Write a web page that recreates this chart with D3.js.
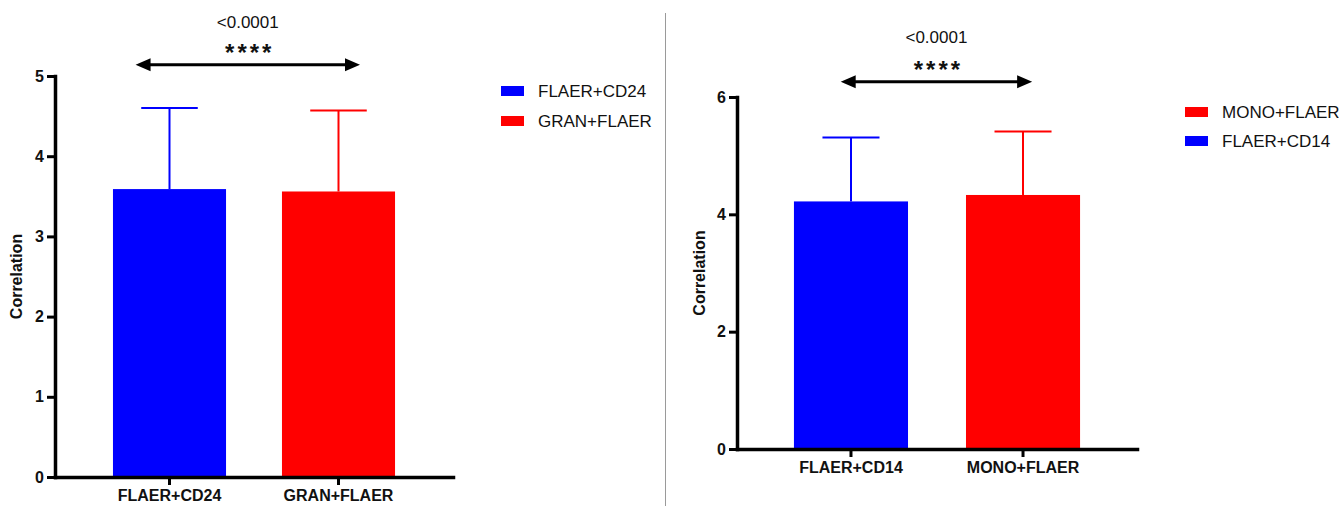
<!DOCTYPE html>
<html><head><meta charset="utf-8">
<script src="https://cdn.jsdelivr.net/npm/d3@7/dist/d3.min.js"></script>
<style>
body{margin:0;background:#fff;}
svg{display:block;font-family:"Liberation Sans",Arial,sans-serif;}
</style></head>
<body><svg id="c" width="1339" height="506"></svg>
<script>
// Left panel data
const leftCategories = ["FLAER+CD24", "GRAN+FLAER"];
const leftMeans = [3.59, 3.56];
const leftUpper = [4.60, 4.57];
const leftColors = ["#0000ff", "#ff0000"];
const leftTicks = [0, 1, 2, 3, 4, 5];
const leftLegend = ["FLAER+CD24", "GRAN+FLAER"];
const leftLegendColors = ["#0000ff", "#ff0000"];
const leftP = "<0.0001";
const leftStars = "****";

// Right panel data
const rightCategories = ["FLAER+CD14", "MONO+FLAER"];
const rightMeans = [4.22, 4.33];
const rightUpper = [5.31, 5.41];
const rightColors = ["#0000ff", "#ff0000"];
const rightTicks = [0, 2, 4, 6];
const rightLegend = ["MONO+FLAER", "FLAER+CD14"];
const rightLegendColors = ["#ff0000", "#0000ff"];
const rightP = "<0.0001";
const rightStars = "****";

const yLabel = "Correlation";
const svg = d3.select("#c");

// divider
svg.append("line").attr("x1",665.5).attr("x2",665.5).attr("y1",13).attr("y2",506)
  .attr("stroke","#9a9a9a").attr("stroke-width",1);

function panel(o){
  const g = svg.append("g");
  const x = d3.scaleBand().domain(o.cats).range([o.x0,o.x1]).paddingInner(o.pi).paddingOuter(o.po);
  const y = d3.scaleLinear().domain([0,o.ymax]).range([o.y0,o.y1]);
  const bw = x.bandwidth();
  // bars
  g.selectAll("rect.bar").data(o.cats).join("rect").attr("class","bar")
    .attr("x",d=>x(d)).attr("width",bw)
    .attr("y",(d,i)=>y(o.means[i])).attr("height",(d,i)=>y(0)-y(o.means[i]))
    .attr("fill",(d,i)=>o.colors[i]);
  // error bars
  o.cats.forEach((d,i)=>{
    const cx = x(d)+bw/2;
    g.append("line").attr("x1",cx).attr("x2",cx).attr("y1",y(o.means[i])).attr("y2",y(o.upper[i]))
      .attr("stroke",o.colors[i]).attr("stroke-width",2);
    g.append("line").attr("x1",cx-bw/4).attr("x2",cx+bw/4).attr("y1",y(o.upper[i])).attr("y2",y(o.upper[i]))
      .attr("stroke",o.colors[i]).attr("stroke-width",2);
  });
  // y axis
  const ya = g.append("g").attr("transform",`translate(${o.x0},0)`)
    .call(d3.axisLeft(y).tickValues(o.ticks).tickFormat(d3.format("d")).tickSize(8).tickSizeOuter(0).tickPadding(3));
  // x axis
  const xa = g.append("g").attr("transform",`translate(0,${o.y0})`)
    .call(d3.axisBottom(x).tickSize(8).tickSizeOuter(0).tickPadding(5));
  [ya,xa].forEach(a=>{
    a.attr("font-size",null).attr("font-family",null);
    a.select(".domain").attr("stroke","#000").attr("stroke-width",3.5).attr("stroke-linecap","square");
    a.selectAll(".tick line").attr("stroke","#000").attr("stroke-width",3);
    a.selectAll(".tick text").attr("fill","#111").style("font-weight","bold");
  });
  ya.selectAll(".tick text").style("font-size","16px");
  xa.selectAll(".tick text").style("font-size","16px");
  // y label
  g.append("text").attr("transform",`translate(${o.labx},${(o.y0+o.y1)/2}) rotate(-90)`)
    .attr("text-anchor","middle").attr("dominant-baseline","central")
    .style("font-size","16px").style("font-weight","bold").attr("fill","#111").text(yLabel);
  // significance arrow
  const ax1 = x(o.cats[0]) + o.af[0]*bw, ax2 = x(o.cats[1]) + o.af[1]*bw, ay = y(o.ay);
  const ah = 15, hw = 6.5;
  g.append("line").attr("x1",ax1+ah-2).attr("x2",ax2-ah+2).attr("y1",ay).attr("y2",ay)
    .attr("stroke","#000").attr("stroke-width",3);
  g.append("path").attr("d",`M${ax1},${ay}L${ax1+ah},${ay-hw}L${ax1+ah},${ay+hw}Z`).attr("fill","#000");
  g.append("path").attr("d",`M${ax2},${ay}L${ax2-ah},${ay-hw}L${ax2-ah},${ay+hw}Z`).attr("fill","#000");
  const mx = (ax1+ax2)/2;
  g.append("text").attr("x",mx+2).attr("y",ay-4).attr("text-anchor","middle")
    .style("font-size","24px").style("font-weight","bold").attr("fill","#111").attr("letter-spacing",3).text(o.stars);
  g.append("text").attr("x",mx).attr("y",o.py).attr("text-anchor","middle").attr("dominant-baseline","central")
    .style("font-size","17px").attr("fill","#111").text(o.p);
  // legend
  o.legend.forEach((t,i)=>{
    const ly = o.ly + i*o.lstep;
    g.append("rect").attr("x",o.lx).attr("y",ly-5).attr("width",23).attr("height",10).attr("fill",o.lcolors[i]);
    g.append("text").attr("x",o.lx+37).attr("y",ly).attr("dominant-baseline","central")
      .style("font-size","17px").attr("fill","#111").text(t);
  });
}

panel({cats:leftCategories, means:leftMeans, upper:leftUpper, colors:leftColors, ticks:leftTicks,
  ymax:5, x0:55, x1:453, y0:477, y1:76, pi:0.331, po:0.343, labx:16,
  af:[0.2,0.69], ay:5.14, stars:leftStars, p:leftP, py:22,
  legend:leftLegend, lcolors:leftLegendColors, lx:501, ly:91, lstep:30});

panel({cats:rightCategories, means:rightMeans, upper:rightUpper, colors:rightColors, ticks:rightTicks,
  ymax:6, x0:737, x1:1137, y0:449, y1:97, pi:0.337, po:0.331, labx:699,
  af:[0.41,0.58], ay:6.26, stars:rightStars, p:rightP, py:37,
  legend:rightLegend, lcolors:rightLegendColors, lx:1185, ly:112, lstep:29});
</script></body></html>
